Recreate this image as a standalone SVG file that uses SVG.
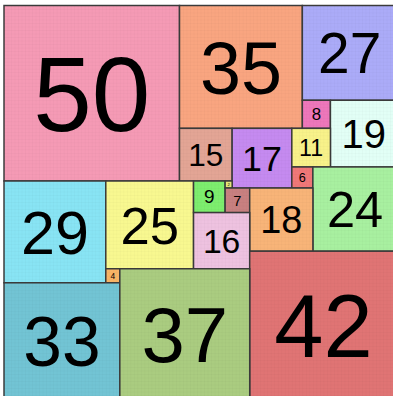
<svg xmlns="http://www.w3.org/2000/svg" width="393" height="396" viewBox="0 0 393 396">
<defs>
<pattern id="grid" patternUnits="userSpaceOnUse" width="1" height="1">
<path d="M0 0H1M0 0V1" fill="none" stroke="#000" stroke-opacity="0.07" stroke-width="0.14"/>
</pattern>
</defs>
<style>
.sq rect.f{stroke:none}
.sq rect.g{fill:url(#grid);stroke:#3a3a3a;stroke-width:0.42}
.sq text{font-family:"Liberation Sans",Arial,sans-serif;fill:#000;text-anchor:middle}
</style>
<rect width="393" height="396" fill="#fff"/>
<g transform="translate(4,5.5) scale(3.51)">
<g class="sq" id="s50"><rect class="f" x="0" y="0" width="50" height="50" fill="#F59AB5"/><rect class="g" x="0" y="0" width="50" height="50"/><text x="25" y="35.8" font-size="30">50</text></g>
<g class="sq" id="s35"><rect class="f" x="50" y="0" width="35" height="35" fill="#F9A580"/><rect class="g" x="50" y="0" width="35" height="35"/><text x="67.5" y="25.1" font-size="21">35</text></g>
<g class="sq" id="s27"><rect class="f" x="85" y="0" width="27" height="27" fill="#ABABF8"/><rect class="g" x="85" y="0" width="27" height="27"/><text x="98.5" y="19.3" font-size="16.2">27</text></g>
<g class="sq" id="s8"><rect class="f" x="85" y="27" width="8" height="8" fill="#EE77BB"/><rect class="g" x="85" y="27" width="8" height="8"/><text x="89" y="32.7" font-size="4.8">8</text></g>
<g class="sq" id="s19"><rect class="f" x="93" y="27" width="19" height="19" fill="#E2FFF6"/><rect class="g" x="93" y="27" width="19" height="19"/><text x="102.5" y="40.6" font-size="11.4">19</text></g>
<g class="sq" id="s15"><rect class="f" x="50" y="35" width="15" height="15" fill="#E3A595"/><rect class="g" x="50" y="35" width="15" height="15"/><text x="57.5" y="45.7" font-size="9">15</text></g>
<g class="sq" id="s17"><rect class="f" x="65" y="35" width="17" height="17" fill="#C58AF0"/><rect class="g" x="65" y="35" width="17" height="17"/><text x="73.5" y="47.2" font-size="10.2">17</text></g>
<g class="sq" id="s11"><rect class="f" x="82" y="35" width="11" height="11" fill="#F8F28A"/><rect class="g" x="82" y="35" width="11" height="11"/><text x="87.5" y="42.9" font-size="6.6">11</text></g>
<g class="sq" id="s6"><rect class="f" x="82" y="46" width="6" height="6" fill="#F07878"/><rect class="g" x="82" y="46" width="6" height="6"/><text x="85" y="50.3" font-size="3.6">6</text></g>
<g class="sq" id="s24"><rect class="f" x="88" y="46" width="24" height="24" fill="#A8F0A0"/><rect class="g" x="88" y="46" width="24" height="24"/><text x="100" y="63.2" font-size="14.4">24</text></g>
<g class="sq" id="s29"><rect class="f" x="0" y="50" width="29" height="29" fill="#88E4F4"/><rect class="g" x="0" y="50" width="29" height="29"/><text x="14.5" y="70.8" font-size="17.4">29</text></g>
<g class="sq" id="s25"><rect class="f" x="29" y="50" width="25" height="25" fill="#F8F890"/><rect class="g" x="29" y="50" width="25" height="25"/><text x="41.5" y="68" font-size="15">25</text></g>
<g class="sq" id="s9"><rect class="f" x="54" y="50" width="9" height="9" fill="#7DEE6E"/><rect class="g" x="54" y="50" width="9" height="9"/><text x="58.5" y="56.4" font-size="5.4">9</text></g>
<g class="sq" id="s2"><rect class="f" x="63" y="50" width="2" height="2" fill="#E6E67A"/><rect class="g" x="63" y="50" width="2" height="2"/><text x="64" y="51.45" font-size="1.2">2</text></g>
<g class="sq" id="s7"><rect class="f" x="63" y="52" width="7" height="7" fill="#C88080"/><rect class="g" x="63" y="52" width="7" height="7"/><text x="66.5" y="57" font-size="4.2">7</text></g>
<g class="sq" id="s18"><rect class="f" x="70" y="52" width="18" height="18" fill="#F8B478"/><rect class="g" x="70" y="52" width="18" height="18"/><text x="79" y="64.9" font-size="10.8">18</text></g>
<g class="sq" id="s16"><rect class="f" x="54" y="59" width="16" height="16" fill="#EEC2E0"/><rect class="g" x="54" y="59" width="16" height="16"/><text x="62" y="70.5" font-size="9.6">16</text></g>
<g class="sq" id="s42"><rect class="f" x="70" y="70" width="42" height="42" fill="#E07474"/><rect class="g" x="70" y="70" width="42" height="42"/><text x="91" y="100" font-size="25.2">42</text></g>
<g class="sq" id="s4"><rect class="f" x="29" y="75" width="4" height="4" fill="#F8B466"/><rect class="g" x="29" y="75" width="4" height="4"/><text x="31" y="77.9" font-size="2.4">4</text></g>
<g class="sq" id="s33"><rect class="f" x="0" y="79" width="33" height="33" fill="#72C4D4"/><rect class="g" x="0" y="79" width="33" height="33"/><text x="16.5" y="102.6" font-size="19.8">33</text></g>
<g class="sq" id="s37"><rect class="f" x="33" y="75" width="37" height="37" fill="#AACC80"/><rect class="g" x="33" y="75" width="37" height="37"/><text x="51.5" y="101.5" font-size="22.2">37</text></g>
</g>
</svg>
